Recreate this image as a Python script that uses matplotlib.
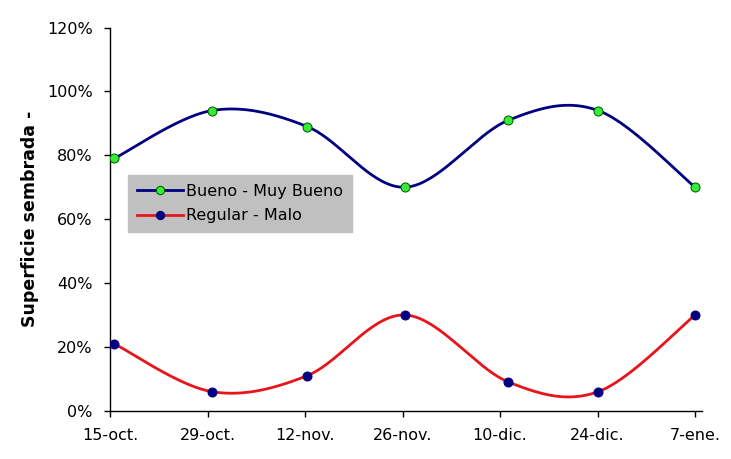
import numpy as np
import matplotlib
matplotlib.use("Agg")
import matplotlib.pyplot as plt
from matplotlib.lines import Line2D
from matplotlib.ticker import FuncFormatter

# dias desde el 15-oct (posicion de cada observacion en el eje de fechas)
dias = [0.6, 14.6, 28.3, 42.3, 57.2, 70.1, 84.0]
bueno = [79, 94, 89, 70, 91, 94, 70]      # Bueno - Muy Bueno (%)
regular = [21, 6, 11, 30, 9, 6, 30]       # Regular - Malo (%)
tick_dias = [0, 14, 28, 42, 56, 70, 84]
tick_labels = ["15-oct.", "29-oct.", "12-nov.", "26-nov.", "10-dic.", "24-dic.", "7-ene."]
y_ticks = [0, 20, 40, 60, 80, 100, 120]


# curva suavizada tipo Excel (Bezier con tangentes Catmull-Rom)
def suavizar(x, y, n=40):
    p = np.column_stack([x, y]).astype(float)
    ext = np.vstack([p[0], p, p[-1]])
    out = []
    t = np.linspace(0, 1, n)[:, None]
    for i in range(len(p) - 1):
        p0 = p[i]
        p3 = p[i + 1]
        c1 = p0 + (ext[i + 2] - ext[i]) / 6.0
        c2 = p3 - (ext[i + 3] - ext[i + 1]) / 6.0
        seg = ((1 - t) ** 3) * p0 + 3 * ((1 - t) ** 2) * t * c1 + 3 * (1 - t) * t ** 2 * c2 + t ** 3 * p3
        out.append(seg if i == 0 else seg[1:])
    s = np.vstack(out)
    return s[:, 0], s[:, 1]


fig = plt.figure(figsize=(7.31, 4.59), dpi=100)
ax = fig.add_axes([0.1505, 0.105, 0.81, 0.835])

azul = "#000080"
rojo = "#E8141B"
verde = "#33EE33"

xs, ys = suavizar(dias, bueno)
ax.plot(xs, ys, color=azul, lw=2.0, solid_capstyle="round", zorder=3)
ax.plot(dias, bueno, "o", ms=6.5, mfc=verde, mec="#005000", mew=0.7, zorder=4)

xs, ys = suavizar(dias, regular)
ax.plot(xs, ys, color=rojo, lw=2.0, solid_capstyle="round", zorder=3)
ax.plot(dias, regular, "o", ms=6.5, mfc=azul, mec=azul, mew=0.7, zorder=4)

ax.set_xlim(0, 85)
ax.set_ylim(0, 120)
ax.set_xticks(tick_dias)
ax.set_xticklabels(tick_labels)
ax.set_yticks(y_ticks)
ax.yaxis.set_major_formatter(FuncFormatter(lambda v, pos: "%d%%" % v))

for s in ["top", "right"]:
    ax.spines[s].set_visible(False)
for s in ["left", "bottom"]:
    ax.spines[s].set_linewidth(1.0)
    ax.spines[s].set_color("black")

ax.tick_params(axis="both", direction="out", length=4.5, width=1.0, labelsize=11.5, colors="black")
ax.tick_params(axis="y", pad=8)
ax.tick_params(axis="x", pad=8)

ax.set_ylabel("Superficie sembrada -", fontsize=12.5, fontweight="bold", labelpad=6)

handles = [
    Line2D([], [], color=azul, lw=2.0, marker="o", ms=6, mfc=verde, mec="#005000", mew=0.7),
    Line2D([], [], color=rojo, lw=2.0, marker="o", ms=6, mfc=azul, mec=azul, mew=0.7),
]
leg = ax.legend(handles, ["Bueno - Muy Bueno", "Regular - Malo"], loc="lower left",
                bbox_to_anchor=(0.03, 0.466), fontsize=11.5, frameon=True, fancybox=False,
                handlelength=2.9, handletextpad=0.2, borderpad=0.55, labelspacing=0.6,
                borderaxespad=0)
leg.get_frame().set_facecolor("#C0C0C0")
leg.get_frame().set_edgecolor("#C0C0C0")
leg.get_frame().set_alpha(1)

fig.savefig("out.png", dpi=100)
